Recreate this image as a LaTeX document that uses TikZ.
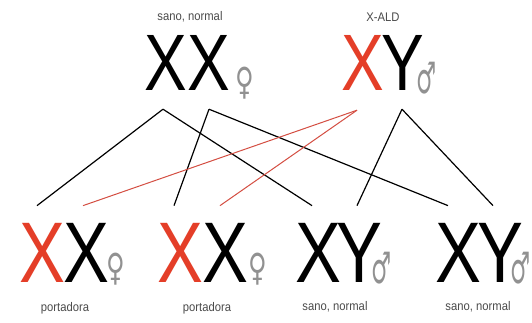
\documentclass[tikz,border=0pt]{standalone}
\usepackage{fontspec}
\setmainfont{Liberation Sans}
\newfontfamily\symfont{DejaVu Sans}
\usepackage{graphicx}
\definecolor{xred}{RGB}{228,62,40}
\definecolor{lred}{RGB}{212,78,66}
\definecolor{symgray}{RGB}{145,145,145}
\definecolor{labgray}{RGB}{75,75,75}
\tikzset{
  bigtop/.style={inner sep=0, anchor=base, font=\fontsize{80}{80}\selectfont},
  bigbot/.style={inner sep=0, anchor=base, font=\fontsize{86}{86}\selectfont},
  gsym/.style={inner sep=0, text=symgray, font=\symfont\fontsize{30}{30}\selectfont},
  lab/.style={inner sep=0, text=labgray, font=\fontsize{12.5}{12.5}\selectfont},
  blk/.style={draw=black, line width=1.2pt},
  rdl/.style={draw=lred, line width=1pt}
}
\newcommand{\nar}[1]{\scalebox{0.8}[1]{#1}}
\newcommand{\lnar}[1]{\scalebox{0.9}[1]{#1}}
\newcommand{\fem}{\scalebox{0.85}[1.25]{♀}}
\newcommand{\mal}{\scalebox{0.75}[1.45]{♂}}
\begin{document}
\begin{tikzpicture}[x=1pt,y=1pt]
\useasboundingbox[fill=white] (0,0) rectangle (532,-322);
% parents
\node[lab] (l1) at (190,-17) {\lnar{sano, normal}};
\node[lab] (l2) at (383,-17) {\lnar{X-ALD}};
\node[bigtop] (mA) at (166,-90) {\nar{X}};
\node[bigtop] (mB) at (209,-90) {\nar{X}};
\node[gsym] (sm) at (245,-83) {\fem};
\node[bigtop,text=xred] (fA) at (363,-90) {\nar{X}};
\node[bigtop] (fB) at (403,-90) {\nar{Y}};
\node[gsym] (sf) at (427,-78) {\mal};
% children
\node[bigbot,text=xred] (c1A) at (42,-282) {\nar{X}};
\node[bigbot] (c1B) at (86,-282) {\nar{X}};
\node[gsym] (s1) at (116,-269) {\fem};
\node[lab] (p1) at (65,-308) {\lnar{portadora}};
\node[bigbot,text=xred] (c2A) at (180,-282) {\nar{X}};
\node[bigbot] (c2B) at (225,-282) {\nar{X}};
\node[gsym] (s2) at (258,-269) {\fem};
\node[lab] (p2) at (207,-308) {\lnar{portadora}};
\node[bigbot] (c3A) at (318,-282) {\nar{X}};
\node[bigbot] (c3B) at (359,-282) {\nar{Y}};
\node[gsym] (s3) at (382,-268) {\mal};
\node[lab] (p3) at (335,-307) {\lnar{sano, normal}};
\node[bigbot] (c4A) at (458,-282) {\nar{X}};
\node[bigbot] (c4B) at (500,-282) {\nar{Y}};
\node[gsym] (s4) at (521,-268) {\mal};
\node[lab] (p4) at (478,-307) {\lnar{sano, normal}};
% connectors
\draw[blk] ([xshift=-3pt,yshift=-19pt]mA.south) -- ([xshift=-5pt,yshift=17pt]c1A.north);
\draw[blk] ([xshift=-3pt,yshift=-19pt]mA.south) -- ([xshift=-6pt,yshift=17pt]c3A.north);
\draw[blk] ([yshift=-19pt]mB.south) -- ([xshift=-6pt,yshift=17pt]c2A.north);
\draw[blk] ([yshift=-19pt]mB.south) -- ([xshift=-10pt,yshift=17pt]c4A.north);
\draw[rdl] ([xshift=-6pt,yshift=-20pt]fA.south) -- ([xshift=-3pt,yshift=17pt]c1B.north);
\draw[rdl] ([xshift=-6pt,yshift=-20pt]fA.south) -- ([xshift=-5pt,yshift=17pt]c2B.north);
\draw[blk] ([xshift=-1pt,yshift=-19pt]fB.south) -- ([xshift=-2pt,yshift=17pt]c3B.north);
\draw[blk] ([xshift=-1pt,yshift=-19pt]fB.south) -- ([xshift=-7pt,yshift=17pt]c4B.north);
\end{tikzpicture}
\end{document}
